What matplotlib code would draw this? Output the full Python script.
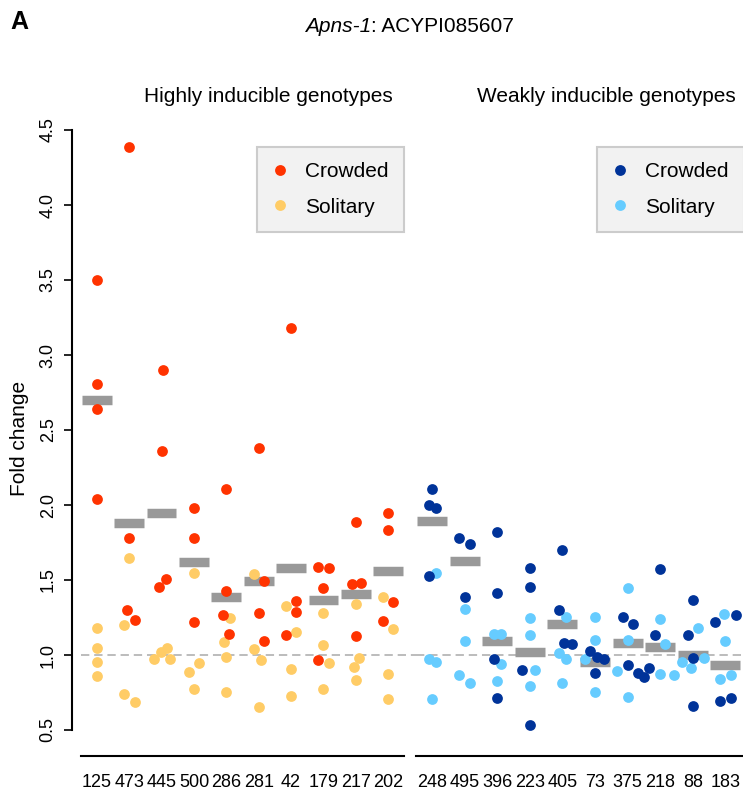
import matplotlib
matplotlib.use("Agg")
import matplotlib.pyplot as plt
from matplotlib.lines import Line2D

plt.rcParams["font.family"] = ["Liberation Sans", "DejaVu Sans"]
plt.rcParams["lines.scale_dashes"] = False

# ── data ───────────────────────────────────────────────────────────
hi_labels = ["125", "473", "445", "500", "286", "281", "42", "179", "217", "202"]
hi_crowded = [
    [3.50, 2.81, 2.64, 2.04],
    [4.39, 1.78, 1.30, 1.236],
    [2.90, 2.36, 1.504, 1.456],
    [1.978, 1.778, 1.22],
    [2.107, 1.429, 1.269, 1.138],
    [2.38, 1.493, 1.282, 1.093],
    [3.18, 1.36, 1.284, 1.136],
    [1.589, 1.582, 1.444, 0.967],
    [1.889, 1.473, 1.478, 1.124],
    [1.944, 1.831, 1.353, 1.229],
]
hi_solitary = [
    [1.18, 1.044, 0.956, 0.858],
    [1.65, 1.20, 0.74, 0.684],
    [0.976, 1.022, 1.044, 0.971],
    [1.544, 0.949, 0.887, 0.771],
    [1.247, 1.084, 0.984, 0.753],
    [1.54, 1.038, 0.964, 0.653],
    [1.329, 1.156, 0.904, 0.724],
    [1.28, 1.069, 0.944, 0.776],
    [1.338, 0.98, 0.922, 0.833],
    [1.389, 1.176, 0.873, 0.704],
]
hi_mean = [2.70, 1.88, 1.947, 1.622, 1.389, 1.493, 1.58, 1.367, 1.407, 1.562]

lo_labels = ["248", "495", "396", "223", "405", "73", "375", "218", "88", "183"]
lo_crowded = [
    [2.107, 2.0, 1.978, 1.527],
    [1.782, 1.742, 1.389],
    [1.818, 1.411, 0.976, 0.716],
    [1.578, 1.456, 0.90, 0.533],
    [1.702, 1.30, 1.078, 1.071],
    [1.027, 0.989, 0.973, 0.882],
    [1.251, 1.209, 0.933, 0.882],
    [1.576, 1.131, 0.913, 0.851],
    [1.367, 1.131, 0.982, 0.66],
    [1.269, 1.22, 0.716, 0.691],
]
lo_solitary = [
    [1.544, 0.971, 0.951, 0.707],
    [1.304, 1.093, 0.867, 0.816],
    [1.138, 1.138, 0.94, 0.829],
    [1.247, 1.131, 0.90, 0.793],
    [1.256, 1.016, 0.971, 0.816],
    [1.253, 1.098, 0.973, 0.753],
    [1.444, 1.098, 0.893, 0.718],
    [1.24, 1.071, 0.873, 0.869],
    [1.182, 0.982, 0.953, 0.911],
    [1.276, 1.096, 0.864, 0.84],
]
lo_mean = [1.896, 1.629, 1.096, 1.022, 1.209, 0.956, 1.082, 1.056, 0.998, 0.933]

# ── point dodge (fraction of a column), as seen in the figure ──────
hi_crowded_dx = [
    [0, 0, 0, 0], [0, 0, -0.07, 0.17], [0.03, 0, 0.14, -0.07], [0, 0, 0],
    [0, 0, -0.11, 0.09], [0, 0.17, 0, 0.17], [0, 0.16, 0.16, -0.16],
    [-0.16, 0.16, 0, -0.16], [0, -0.11, 0.17, 0], [0, 0, 0.16, -0.17],
]
hi_solitary_dx = [
    [0, 0, 0, 0], [0, -0.15, -0.15, 0.17], [-0.22, -0.02, 0.18, 0.25],
    [0, 0.17, -0.15, 0], [0.11, -0.06, 0, 0], [-0.16, -0.16, 0.08, 0],
    [-0.16, 0.16, 0, 0], [0, 0, 0.16, 0], [0, 0.11, -0.05, 0], [-0.17, 0.16, 0, 0],
]
lo_crowded_dx = [
    [0, -0.1, 0.12, -0.1], [-0.17, 0.17, 0], [0, 0, -0.1, 0], [0, 0, -0.25, 0],
    [0, -0.11, 0.05, 0.28], [-0.14, 0.07, 0.28, 0], [-0.15, 0.17, 0, 0.33],
    [0, -0.16, -0.33, -0.5], [0, -0.16, 0, 0], [0.34, -0.33, 0.17, -0.16],
]
lo_solitary_dx = [
    [0.12, -0.1, 0.12, 0], [0, 0, -0.17, 0.17], [-0.1, 0.12, 0.12, 0],
    [0, 0, 0.17, 0], [0.1, -0.11, 0.1, 0], [0, 0, -0.32, 0],
    [0, 0, -0.32, 0], [0, 0.16, 0, 0.41], [0.17, 0.34, -0.33, -0.07],
    [-0.03, 0, 0.17, -0.16],
]

W, H = 743, 797
fig = plt.figure(figsize=(W / 100, H / 100), dpi=100)

ylo = 1 + (655 - 756) / 150
yhi = 1 + (655 - 120) / 150
ax_l = fig.add_axes([80.7 / W, 41 / H, 323.6 / W, 636 / H])
ax_r = fig.add_axes([415.7 / W, 41 / H, 326 / W, 636 / H])

TICK_FONT = ["Liberation Sans", "DejaVu Sans"]
ax_pos_leg = {id(ax_l): 257, id(ax_r): 597}


def draw_group(ax, labels, crowded, cdx, solitary, sdx, means, c_col, s_col, ext):
    xs = list(range(len(labels)))
    ax.axhline(1.0, xmin=ext[0], xmax=ext[1], color="#aaaaaa", lw=1.1,
               dashes=(6, 3.5), zorder=1, clip_on=False)
    ax.hlines(means, [x - 0.46 for x in xs], [x + 0.46 for x in xs],
              color="#999999", lw=6.8, capstyle="butt", zorder=2)
    for x, vals, dx in zip(xs, solitary, sdx):
        ax.scatter([x + d for d in dx], vals, s=60, color=s_col, lw=0, zorder=3)
    for x, vals, dx in zip(xs, crowded, cdx):
        ax.scatter([x + d for d in dx], vals, s=60, color=c_col, lw=0, zorder=4)
    ax.set_xlim(-0.5, len(labels) - 0.5)
    ax.set_ylim(ylo, yhi)
    ax.set_xticks(xs)
    ax.set_xticklabels(labels, family=TICK_FONT, fontsize=13)
    ax.tick_params(axis="x", length=0, pad=13)
    for s in ("top", "right"):
        ax.spines[s].set_visible(False)
    ax.spines["bottom"].set_linewidth(1.5)
    ax.patch.set_visible(False)
    leg = ax.legend(
        handles=[Line2D([], [], marker="o", ls="none", color=c_col, markersize=7.8, mew=0),
                 Line2D([], [], marker="o", ls="none", color=s_col, markersize=7.8, mew=0)],
        labels=["Crowded", "Solitary"], fontsize=15, frameon=True, fancybox=False,
        borderpad=0.72, labelspacing=0.8, handlelength=0.8, handletextpad=0.8,
        loc="upper left", bbox_transform=fig.transFigure, borderaxespad=0,
        bbox_to_anchor=(ax_pos_leg[id(ax)] / W, 1 - 147 / H))
    leg.get_frame().set_facecolor("#f2f2f2")
    leg.get_frame().set_edgecolor("#cccccc")
    leg.get_frame().set_linewidth(1.5)
    leg.get_frame().set_alpha(1)


draw_group(ax_l, hi_labels, hi_crowded, hi_crowded_dx, hi_solitary, hi_solitary_dx,
           hi_mean, "#ff3300", "#ffcc66", (0, 1.036))
draw_group(ax_r, lo_labels, lo_crowded, lo_crowded_dx, lo_solitary, lo_solitary_dx,
           lo_mean, "#003399", "#66ccff", (0, 1))

# y axis (left panel only)
ax_l.spines["left"].set_position(("outward", 6.3))
ax_l.spines["left"].set_bounds(0.5, 4.5)
ax_l.spines["left"].set_linewidth(1.5)
yt = [0.5, 1.0, 1.5, 2.0, 2.5, 3.0, 3.5, 4.0, 4.5]
ax_l.set_yticks(yt)
ax_l.set_yticklabels([f"{v:.1f}" for v in yt], rotation=90, va="center",
                     family=TICK_FONT, fontsize=13)
ax_l.tick_params(axis="y", length=6, width=1.2, pad=5)
ax_l.set_ylabel("Fold change", fontsize=15, labelpad=8)
ax_r.spines["left"].set_visible(False)
ax_r.set_yticks([])

# titles
fig.text(10 / W, 1 - 22 / H, "A", fontsize=18, fontweight="bold", va="center", ha="left")
fig.text(371 / W, 1 - 26 / H, "Apns-1", fontsize=15, style="italic", va="center", ha="right")
fig.text(371 / W, 1 - 26 / H, ": ACYPI085607", fontsize=15, va="center", ha="left")
fig.text(268 / W, 1 - 97 / H, "Highly inducible genotypes", fontsize=15, va="center", ha="center")
fig.text(606 / W, 1 - 97 / H, "Weakly inducible genotypes", fontsize=15, va="center", ha="center")

fig.savefig("out.png", dpi=100)
